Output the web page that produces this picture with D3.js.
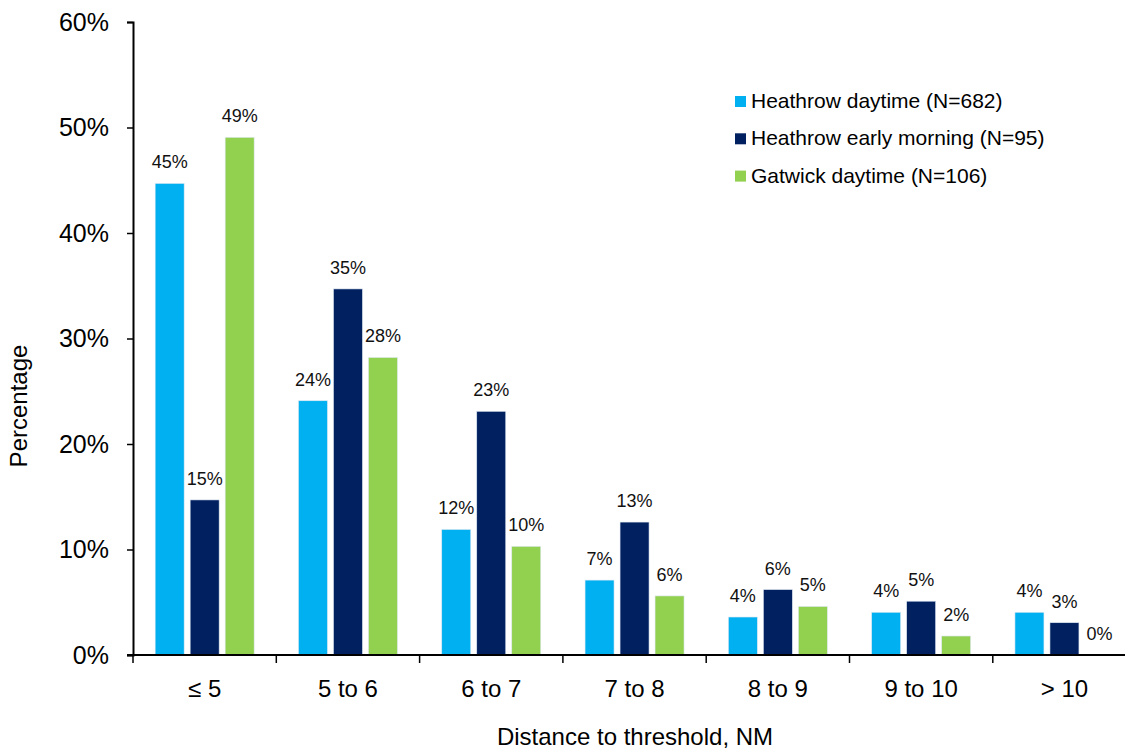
<!DOCTYPE html>
<html>
<head>
<meta charset="utf-8">
<script src="https://cdn.jsdelivr.net/npm/d3@7"></script>
<style>
  body { margin: 0; background: #fff; }
  svg { display: block; font-family: "Liberation Sans", Arial, sans-serif; }
</style>
</head>
<body>
<svg id="chart" width="1125" height="749"></svg>
<script>
// categories and series
var categories = ["\u2264 5", "5 to 6", "6 to 7", "7 to 8", "8 to 9", "9 to 10", "> 10"];
var seriesNames = ["Heathrow daytime (N=682)", "Heathrow early morning (N=95)", "Gatwick daytime (N=106)"];
var heathrowDay = [44.7, 24.1, 11.9, 7.1, 3.6, 4.05, 4.05];
var heathrowEarly = [14.7, 34.7, 23.1, 12.6, 6.2, 5.1, 3.06];
var gatwickDay = [49.07, 28.2, 10.3, 5.6, 4.6, 1.8, 0];
var yTicks = [0, 10, 20, 30, 40, 50, 60];
var colors = ["#00B0F0", "#002060", "#92D050"];

var allSeries = [heathrowDay, heathrowEarly, gatwickDay];

var svg = d3.select("#chart"),
    margin = {top: 22, left: 133, bottom: 94},
    height = +svg.attr("height");

var x0 = d3.scaleBand()
    .domain(categories)
    .range([margin.left, margin.left + 7 * 143.3]);

var x1 = d3.scaleBand()
    .domain(d3.range(3))
    .range([0, 99])
    .paddingInner(6 / 35);

var y = d3.scaleLinear()
    .domain([0, 60])
    .range([height - margin.bottom, margin.top]);

var groupOffset = (x0.bandwidth() - 99) / 2;

// bars
var rows = [];
categories.forEach(function(c, i) {
    allSeries.forEach(function(s, j) {
        rows.push({cat: c, series: j, value: s[i]});
    });
});

svg.selectAll(".bar")
    .data(rows.filter(d => d.value > 0))
    .enter().append("rect")
    .attr("class", "bar")
    .attr("x", d => x0(d.cat) + groupOffset + x1(d.series))
    .attr("y", d => y(d.value))
    .attr("width", x1.bandwidth())
    .attr("height", d => y(0) - y(d.value))
    .style("fill", d => colors[d.series])
    .style("stroke", "#dfe8f2")
    .style("stroke-width", 0.6);

// value labels
svg.selectAll(".valLabel")
    .data(rows)
    .enter().append("text")
    .attr("class", "valLabel")
    .attr("x", d => x0(d.cat) + groupOffset + x1(d.series) + x1.bandwidth() / 2)
    .attr("y", d => y(d.value) - 15)
    .attr("text-anchor", "middle")
    .attr("font-size", 18)
    .attr("fill", "#111")
    .text(d => Math.round(d.value) + "%");

// y axis
var yAxis = svg.append("g")
    .attr("transform", "translate(" + margin.left + ",0)")
    .call(d3.axisLeft(y).tickValues(yTicks).tickSize(6).tickPadding(18).tickFormat(d => d + "%"));
yAxis.select(".domain").attr("stroke", "#000").attr("stroke-width", 2);
yAxis.selectAll(".tick line").attr("stroke", "#000").attr("stroke-width", 1.5);
yAxis.selectAll(".tick text")
    .attr("font-family", "Liberation Sans, Arial, sans-serif")
    .attr("font-size", 25)
    .attr("fill", "#000");

// x axis
var xAxis = svg.append("g")
    .attr("transform", "translate(0," + y(0) + ")");
xAxis.append("line")
    .attr("x1", margin.left - 6)
    .attr("x2", 1125)
    .attr("stroke", "#000")
    .attr("stroke-width", 2);
xAxis.selectAll(".xtick")
    .data(categories.concat(["end"]))
    .enter().append("line")
    .attr("class", "xtick")
    .attr("x1", (d, i) => margin.left + i * x0.step())
    .attr("x2", (d, i) => margin.left + i * x0.step())
    .attr("y1", 0)
    .attr("y2", 8)
    .attr("stroke", "#000")
    .attr("stroke-width", 1.5);
xAxis.selectAll(".xlabel")
    .data(categories)
    .enter().append("text")
    .attr("class", "xlabel")
    .attr("x", d => x0(d) + x0.bandwidth() / 2)
    .attr("y", 42)
    .attr("text-anchor", "middle")
    .attr("font-size", 24)
    .attr("fill", "#000")
    .text(d => d);

// axis titles
svg.append("text")
    .attr("x", 635)
    .attr("y", 745)
    .attr("text-anchor", "middle")
    .attr("font-size", 24)
    .attr("fill", "#000")
    .text("Distance to threshold, NM");

svg.append("text")
    .attr("transform", "translate(27,406) rotate(-90)")
    .attr("text-anchor", "middle")
    .attr("font-size", 24)
    .attr("fill", "#000")
    .text("Percentage");

// legend
var legend = svg.selectAll(".legend")
    .data(seriesNames)
    .enter().append("g")
    .attr("class", "legend")
    .attr("transform", (d, i) => "translate(735," + (96 + i * 37.3) + ")");
legend.append("rect")
    .attr("width", 11)
    .attr("height", 11)
    .style("fill", (d, i) => colors[i]);
legend.append("text")
    .attr("x", 16)
    .attr("y", 12)
    .attr("font-size", 21)
    .attr("fill", "#000")
    .text(d => d);
</script>
</body>
</html>
